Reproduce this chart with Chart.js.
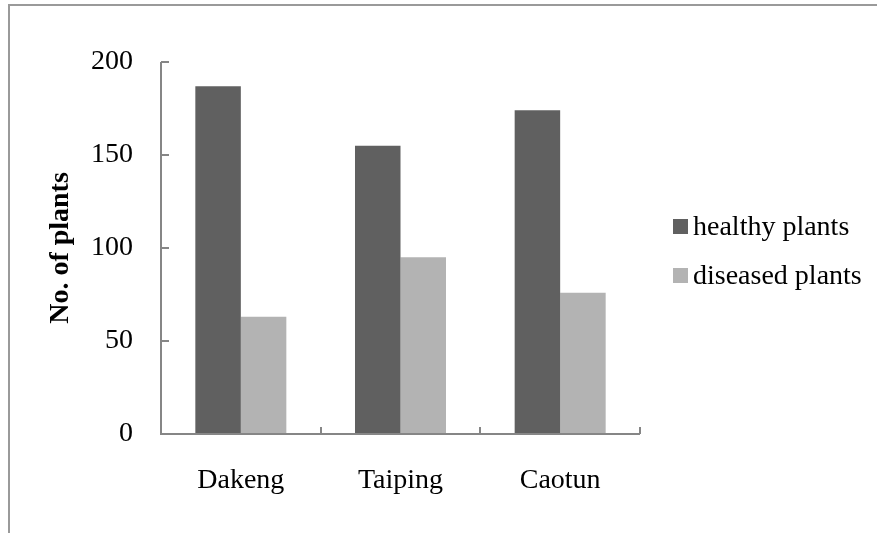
<!DOCTYPE html>
<html>
<head>
<meta charset="utf-8">
<script src="https://cdn.jsdelivr.net/npm/chart.js@4/dist/chart.umd.min.js"></script>
<style>
  html, body { margin: 0; padding: 0; background: #fff; overflow: hidden; }
  #wrap { position: relative; width: 877px; height: 533px; }
  #frame { position: absolute; left: 8px; top: 4px; width: 1000px; height: 1000px;
           border-left: 2px solid #9a9a9a; border-top: 2px solid #9a9a9a; box-sizing: border-box; }
  canvas { position: absolute; left: 0; top: 0; }
  #legend { position: absolute; left: 673px; top: 210px; font-family: "Liberation Serif", serif; font-size: 28px; color: #000; }
  .item { display: flex; align-items: center; height: 32px; margin-bottom: 17px; }
  .sw { width: 15px; height: 15px; margin-right: 5px; }
</style>
</head>
<body>
<div id="wrap">
  <div id="frame"></div>
  <canvas id="c" width="877" height="533"></canvas>
  <div id="legend"></div>
</div>
<script>
const categories = ["Dakeng", "Taiping", "Caotun"];
const healthyPlants = [187, 155, 174];
const diseasedPlants = [63, 95, 76];
const seriesNames = ["healthy plants", "diseased plants"];
const yTicks = [0, 50, 100, 150, 200];

const AXIS = "#868686";
const FONT = "'Liberation Serif', 'Times New Roman', serif";

const innerTicks = {
  id: "innerTicks",
  afterDraw(chart) {
    const ctx = chart.ctx, x = chart.scales.x, y = chart.scales.y, a = chart.chartArea;
    ctx.save();
    ctx.strokeStyle = AXIS;
    ctx.lineWidth = 2;
    ctx.beginPath();
    ctx.moveTo(a.left, a.top); ctx.lineTo(a.left, a.bottom);
    ctx.moveTo(a.left - 1, a.bottom); ctx.lineTo(a.right, a.bottom);
    y.ticks.forEach(t => {
      const py = Math.round(y.getPixelForValue(t.value));
      ctx.moveTo(a.left, py); ctx.lineTo(a.left + 8, py);
    });
    for (let i = 1; i <= categories.length; i++) {
      const px = Math.round(x.getPixelForValue(i - 0.5));
      ctx.moveTo(px, a.bottom); ctx.lineTo(px, a.bottom - 7);
    }
    ctx.stroke();
    ctx.restore();
  }
};

const chart = new Chart(document.getElementById("c"), {
  type: "bar",
  data: {
    labels: categories,
    datasets: [
      { label: seriesNames[0], data: healthyPlants, backgroundColor: "#606060", borderWidth: 0 },
      { label: seriesNames[1], data: diseasedPlants, backgroundColor: "#b3b3b3", borderWidth: 0 }
    ]
  },
  options: {
    responsive: false,
    animation: false,
    devicePixelRatio: 1,
    layout: { padding: { left: 44, top: 62, right: 237, bottom: 38 } },
    datasets: { bar: { categoryPercentage: 0.57, barPercentage: 1.0 } },
    plugins: { legend: { display: false }, tooltip: { enabled: false } },
    scales: {
      x: {
        grid: { display: false, drawTicks: false },
        border: { display: false },
        ticks: { color: "#000", font: { family: FONT, size: 28 }, padding: 30, maxRotation: 0 },
        afterFit(s) { s.height = 61; }
      },
      y: {
        min: 0, max: 200,
        grid: { display: false, drawTicks: false },
        border: { display: false },
        afterBuildTicks(s) { s.ticks = yTicks.map(v => ({ value: v })); },
        ticks: { color: "#000", font: { family: FONT, size: 28 }, padding: 28 },
        title: { display: true, text: "No. of plants", color: "#000",
                 font: { family: FONT, size: 28, weight: "bold" }, padding: 0 },
        afterFit(s) { s.width = 117; }
      }
    }
  },
  plugins: [innerTicks]
});

const lg = document.getElementById("legend");
chart.data.datasets.forEach(ds => {
  const it = document.createElement("div");
  it.className = "item";
  const sw = document.createElement("span");
  sw.className = "sw";
  sw.style.background = ds.backgroundColor;
  const tx = document.createElement("span");
  tx.textContent = ds.label;
  it.appendChild(sw); it.appendChild(tx);
  lg.appendChild(it);
});
</script>
</body>
</html>
